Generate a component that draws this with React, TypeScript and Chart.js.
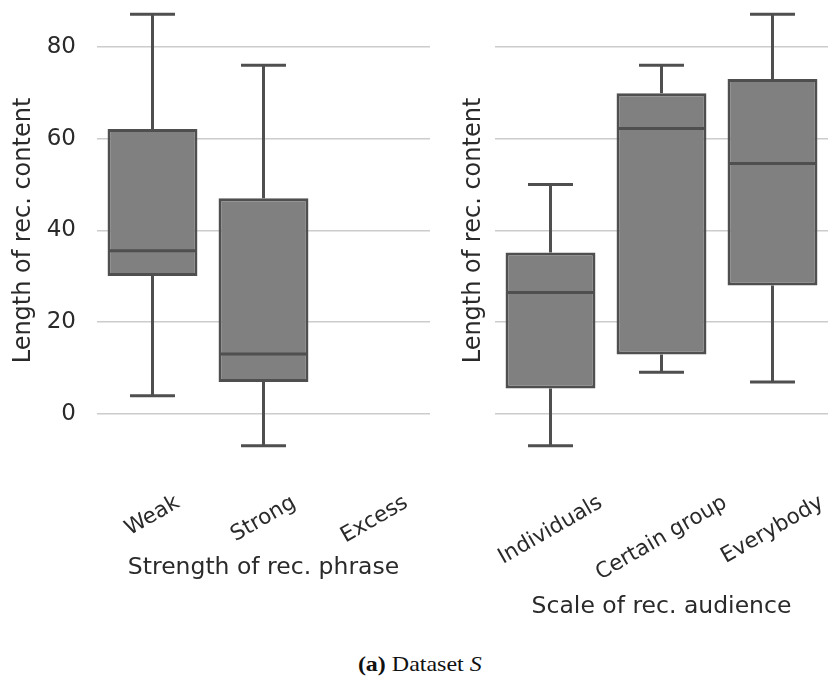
import React, { useEffect, useRef } from 'react';
import { Chart, registerables } from 'chart.js';

Chart.register(...registerables);

// ---- data ----
const phraseCategories = ['Weak', 'Strong', 'Excess'];
const phraseMin = [4.0, -6.9, null];
const phraseQ1 = [30.1, 7.0, null];
const phraseMedian = [35.6, 13.1, null];
const phraseQ3 = [62.1, 47.0, null];
const phraseMax = [87.1, 76.0, null];

const audienceCategories = ['Individuals', 'Certain group', 'Everybody'];
const audienceMin = [-6.9, 9.1, 7.0];
const audienceQ1 = [5.6, 13.0, 28.0];
const audienceMedian = [26.5, 62.2, 54.6];
const audienceQ3 = [35.2, 69.9, 73.0];
const audienceMax = [50.0, 76.0, 87.1];

const yTickValues = [0, 20, 40, 60, 80];
const yMin = -10;
const yMax = 90;

const yTitle = 'Length of rec. content';
const phraseTitle = 'Strength of rec. phrase';
const audienceTitle = 'Scale of rec. audience';

// ---- styles ----
const FONT = '"DejaVu Sans", sans-serif';
const TEXT = '#2a2a2a';
const BOX_FILL = '#808080';
const BOX_EDGE = '#4f4f4f';
const GRID = '#cccccc';
const LABEL_SIZE = 21.5;
const TITLE_SIZE = 23.5;
const TICK_SIZE = 23;
const LABEL_TOP = 492;
const ROT = Math.PI / 6;

const whiskerPlugin = {
  id: 'whiskers',
  afterDatasetsDraw(chart: any) {
    const o = chart.options.plugins.whiskers;
    if (!o) return;
    const { ctx } = chart;
    const y = chart.scales.y;
    const meta = chart.getDatasetMeta(0);
    ctx.save();
    ctx.strokeStyle = BOX_EDGE;
    ctx.lineWidth = 3;
    ctx.lineCap = 'butt';
    meta.data.forEach((bar: any, i: number) => {
      if (o.median[i] == null) return;
      const x = bar.x;
      const w = bar.width;
      const yq1 = y.getPixelForValue(o.q1[i]);
      const yq3 = y.getPixelForValue(o.q3[i]);
      const ymin = y.getPixelForValue(o.min[i]);
      const ymax = y.getPixelForValue(o.max[i]);
      const ymed = y.getPixelForValue(o.median[i]);
      const cap = w / 4;
      ctx.beginPath();
      ctx.moveTo(x, yq3); ctx.lineTo(x, ymax);
      ctx.moveTo(x - cap, ymax); ctx.lineTo(x + cap, ymax);
      ctx.moveTo(x, yq1); ctx.lineTo(x, ymin);
      ctx.moveTo(x - cap, ymin); ctx.lineTo(x + cap, ymin);
      ctx.moveTo(x - w / 2 + 1.5, ymed); ctx.lineTo(x + w / 2 - 1.5, ymed);
      ctx.stroke();
    });
    ctx.restore();
  },
};

const xLabelPlugin = {
  id: 'xlabels',
  afterDraw(chart: any) {
    const { ctx } = chart;
    const xs = chart.scales.x;
    const labels: string[] = chart.data.labels;
    ctx.save();
    ctx.font = `${LABEL_SIZE}px ${FONT}`;
    ctx.fillStyle = TEXT;
    ctx.textAlign = 'center';
    ctx.textBaseline = 'middle';
    labels.forEach((lab, i) => {
      const px = xs.getPixelForValue(i);
      const w = ctx.measureText(lab).width;
      const h = LABEL_SIZE * 1.0;
      const H = w * Math.sin(ROT) + h * Math.cos(ROT);
      ctx.save();
      ctx.translate(px, LABEL_TOP + H / 2);
      ctx.rotate(-ROT);
      ctx.fillText(lab, 0, 0);
      ctx.restore();
    });
    ctx.restore();
  },
};

function makeConfig(
  labels: string[],
  q1: (number | null)[],
  q3: (number | null)[],
  med: (number | null)[],
  mn: (number | null)[],
  mx: (number | null)[],
  showTicks: boolean,
  yWidth: number,
  yTitlePad: number,
  xTitle: string,
  xTitlePad: number,
  padRight: number
): any {
  return {
    type: 'bar',
    data: {
      labels,
      datasets: [
        {
          data: q1.map((v, i) => (v == null ? null : [v, q3[i]])),
          backgroundColor: BOX_FILL,
          borderColor: BOX_EDGE,
          borderWidth: 3,
          borderSkipped: false,
          barPercentage: 0.81,
          categoryPercentage: 1,
        },
      ],
    },
    options: {
      animation: false,
      responsive: false,
      maintainAspectRatio: false,
      layout: { padding: { top: 1, right: padRight, bottom: 0, left: 0 } },
      plugins: {
        legend: { display: false },
        tooltip: { enabled: false },
        whiskers: { q1, q3, median: med, min: mn, max: mx },
      },
      scales: {
        x: {
          type: 'category',
          offset: true,
          grid: { display: false, drawTicks: false },
          border: { display: false },
          ticks: { display: false },
          title: {
            display: true,
            text: xTitle,
            color: TEXT,
            font: { family: FONT, size: TITLE_SIZE },
            padding: { top: 0, bottom: xTitlePad },
          },
          afterFit: (s: any) => {
            s.height = 180;
            s.paddingLeft = 0;
            s.paddingRight = 0;
          },
        },
        y: {
          type: 'linear',
          min: yMin,
          max: yMax,
          afterBuildTicks: (s: any) => {
            s.ticks = yTickValues.map((v) => ({ value: v }));
          },
          grid: { color: GRID, lineWidth: 1.6, drawTicks: false },
          border: { display: false },
          ticks: {
            display: showTicks,
            padding: 21,
            color: TEXT,
            font: { family: FONT, size: TICK_SIZE },
          },
          title: {
            display: true,
            text: yTitle,
            color: TEXT,
            font: { family: FONT, size: 24 },
            padding: { top: yTitlePad, bottom: 0 },
          },
          afterFit: (s: any) => {
            s.width = yWidth;
            s.paddingTop = 0;
            s.paddingBottom = 0;
          },
        },
      },
    },
    plugins: [whiskerPlugin, xLabelPlugin],
  };
}

export default function App() {
  const leftRef = useRef<HTMLCanvasElement>(null);
  const rightRef = useRef<HTMLCanvasElement>(null);

  useEffect(() => {
    const left = new Chart(
      leftRef.current!,
      makeConfig(phraseCategories, phraseQ1, phraseQ3, phraseMedian, phraseMin, phraseMax, true, 97, 9, phraseTitle, 58, 10)
    );
    const right = new Chart(
      rightRef.current!,
      makeConfig(audienceCategories, audienceQ1, audienceQ3, audienceMedian, audienceMin, audienceMax, false, 55, 19, audienceTitle, 19, 0)
    );
    return () => {
      left.destroy();
      right.destroy();
    };
  }, []);

  return (
    <div
      style={{
        position: 'absolute',
        left: 0,
        top: 0,
        width: 828,
        height: 682,
        overflow: 'hidden',
        background: '#ffffff',
      }}
    >
      <canvas
        ref={leftRef}
        width={440}
        height={640}
        style={{ position: 'absolute', left: 0, top: 0, width: 440, height: 640 }}
      />
      <canvas
        ref={rightRef}
        width={388}
        height={640}
        style={{ position: 'absolute', left: 440, top: 0, width: 388, height: 640 }}
      />
      <div
        style={{
          position: 'absolute',
          left: 0,
          width: 840,
          top: 651,
          textAlign: 'center',
          fontFamily: '"Liberation Serif", "DejaVu Serif", serif',
          fontSize: 22,
          color: '#111',
          lineHeight: '26px',
          whiteSpace: 'nowrap',
        }}
      >
        <span style={{ display: 'inline-block', transform: 'scaleX(1.09)' }}>
          <b>(a)</b> Dataset <i>S</i>
        </span>
      </div>
    </div>
  );
}
